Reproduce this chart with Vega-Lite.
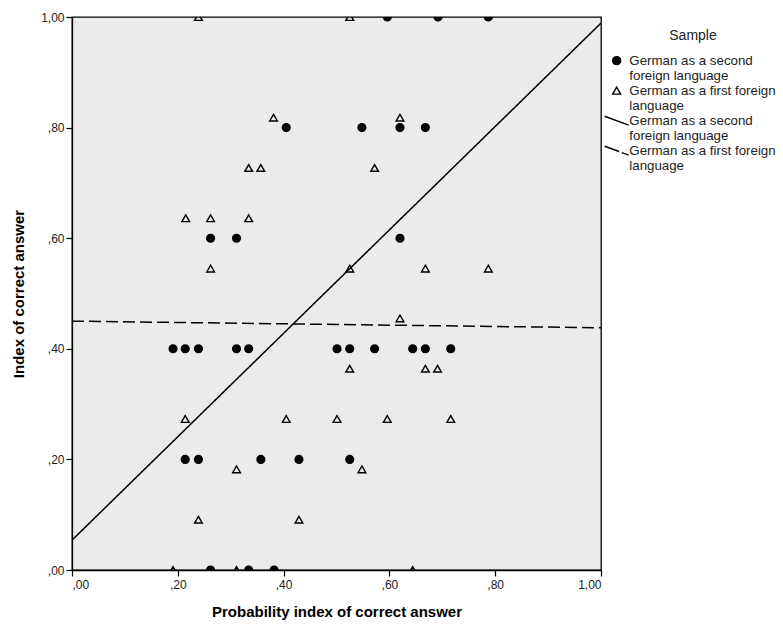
{
  "$schema": "https://vega.github.io/schema/vega-lite/v6.json",
  "autosize": "none",
  "width": 529,
  "height": 553,
  "padding": {"left": 72, "top": 17, "right": 182, "bottom": 57},
  "background": "white",
  "config": {
    "font": "Liberation Sans",
    "view": {"fill": "#EBEBEB", "stroke": "black", "strokeWidth": 1.3},
    "axis": {
      "domainColor": "black", "domainWidth": 1.3, "tickColor": "black", "tickSize": 6, "tickWidth": 1.2,
      "grid": false, "labelFont": "Liberation Sans", "labelFontSize": 12, "labelColor": "#222",
      "titleFont": "Liberation Sans", "titleFontSize": 15, "titleFontWeight": "bold", "titleColor": "black"
    }
  },
  "datasets": {
    "pts": [
      {"x": 0.596, "y": 1.0, "g": "c"}, {"x": 0.692, "y": 1.0, "g": "c"}, {"x": 0.787, "y": 1.0, "g": "c"},
      {"x": 0.405, "y": 0.8, "g": "c"}, {"x": 0.548, "y": 0.8, "g": "c"}, {"x": 0.62, "y": 0.8, "g": "c"}, {"x": 0.668, "y": 0.8, "g": "c"},
      {"x": 0.262, "y": 0.6, "g": "c"}, {"x": 0.311, "y": 0.6, "g": "c"}, {"x": 0.62, "y": 0.6, "g": "c"},
      {"x": 0.191, "y": 0.4, "g": "c"}, {"x": 0.214, "y": 0.4, "g": "c"}, {"x": 0.239, "y": 0.4, "g": "c"}, {"x": 0.311, "y": 0.4, "g": "c"},
      {"x": 0.334, "y": 0.4, "g": "c"}, {"x": 0.501, "y": 0.4, "g": "c"}, {"x": 0.525, "y": 0.4, "g": "c"}, {"x": 0.572, "y": 0.4, "g": "c"},
      {"x": 0.644, "y": 0.4, "g": "c"}, {"x": 0.668, "y": 0.4, "g": "c"}, {"x": 0.716, "y": 0.4, "g": "c"},
      {"x": 0.214, "y": 0.2, "g": "c"}, {"x": 0.239, "y": 0.2, "g": "c"}, {"x": 0.357, "y": 0.2, "g": "c"}, {"x": 0.429, "y": 0.2, "g": "c"}, {"x": 0.525, "y": 0.2, "g": "c"},
      {"x": 0.262, "y": 0.0, "g": "c"}, {"x": 0.334, "y": 0.0, "g": "c"}, {"x": 0.382, "y": 0.0, "g": "c"},
      {"x": 0.239, "y": 1.0, "g": "t"}, {"x": 0.525, "y": 1.0, "g": "t"},
      {"x": 0.381, "y": 0.818, "g": "t"}, {"x": 0.62, "y": 0.818, "g": "t"},
      {"x": 0.334, "y": 0.727, "g": "t"}, {"x": 0.357, "y": 0.727, "g": "t"}, {"x": 0.572, "y": 0.727, "g": "t"},
      {"x": 0.215, "y": 0.636, "g": "t"}, {"x": 0.262, "y": 0.636, "g": "t"}, {"x": 0.334, "y": 0.636, "g": "t"},
      {"x": 0.262, "y": 0.545, "g": "t"}, {"x": 0.525, "y": 0.545, "g": "t"}, {"x": 0.668, "y": 0.545, "g": "t"}, {"x": 0.787, "y": 0.545, "g": "t"},
      {"x": 0.62, "y": 0.455, "g": "t"},
      {"x": 0.525, "y": 0.364, "g": "t"}, {"x": 0.668, "y": 0.364, "g": "t"}, {"x": 0.691, "y": 0.364, "g": "t"},
      {"x": 0.214, "y": 0.273, "g": "t"}, {"x": 0.405, "y": 0.273, "g": "t"}, {"x": 0.501, "y": 0.273, "g": "t"}, {"x": 0.596, "y": 0.273, "g": "t"}, {"x": 0.716, "y": 0.273, "g": "t"},
      {"x": 0.311, "y": 0.182, "g": "t"}, {"x": 0.548, "y": 0.182, "g": "t"},
      {"x": 0.239, "y": 0.091, "g": "t"}, {"x": 0.429, "y": 0.091, "g": "t"},
      {"x": 0.191, "y": 0.0, "g": "t"}, {"x": 0.311, "y": 0.0, "g": "t"}, {"x": 0.644, "y": 0.0, "g": "t"}
    ],
    "fits": [
      {"x": 0, "y": 0.054, "g": "ls"}, {"x": 1, "y": 0.989, "g": "ls"},
      {"x": 0, "y": 0.45, "g": "ld"}, {"x": 1, "y": 0.438, "g": "ld"}
    ]
  },
  "layer": [
    {
      "data": {"name": "pts"},
      "mark": {"type": "point", "filled": true, "strokeWidth": 1.4, "clip": true, "opacity": 1, "size": 60},
      "encoding": {
        "x": {
          "field": "x", "type": "quantitative", "title": "Probability index of correct answer",
          "scale": {"domain": [0, 1], "nice": false, "zero": false},
          "axis": {"values": [0, 0.2, 0.4, 0.6, 0.8, 1], "labelExpr": "datum.value == 1 ? '1,00' : ',' + format(datum.value * 100, '02d')", "titlePadding": 14, "labelPadding": 3}
        },
        "y": {
          "field": "y", "type": "quantitative", "title": "Index of correct answer",
          "scale": {"domain": [0, 1], "nice": false, "zero": false},
          "axis": {"values": [0, 0.2, 0.4, 0.6, 0.8, 1], "labelExpr": "datum.value == 1 ? '1,00' : ',' + format(datum.value * 100, '02d')", "titlePadding": 14, "labelPadding": 2}
        },
        "shape": {
          "field": "g", "type": "nominal", "title": "Sample",
          "scale": {"domain": ["c", "t", "ls", "ld"], "range": ["circle", "triangle-up", "M-3,-1.1L3,1.1", "M-3,-1.1L0.6,0.22M1.3,0.48L3,1.1"]},
          "legend": {
            "orient": "none", "legendX": 538, "legendY": 12,
            "titleFont": "Liberation Sans", "titleFontSize": 14, "titleFontWeight": "normal", "titleColor": "#222",
            "titleAnchor": "middle", "titlePadding": 11,
            "labelFont": "Liberation Sans", "labelFontSize": 13.3, "labelColor": "#222", "labelLimit": 200,
            "labelExpr": "datum.value == 'c' || datum.value == 'ls' ? ['German as a second', 'foreign language'] : ['German as a first foreign', 'language']",
            "symbolStrokeWidth": 1.4, "symbolSize": 64, "rowPadding": 0, "labelOffset": 6
          }
        },
        "fill": {
          "field": "g", "type": "nominal", "title": "Sample",
          "scale": {"domain": ["c", "t", "ls", "ld"], "range": ["black", "transparent", "transparent", "transparent"]}
        },
        "stroke": {
          "field": "g", "type": "nominal", "title": "Sample",
          "scale": {"domain": ["c", "t", "ls", "ld"], "range": ["black", "black", "black", "black"]}
        }
      }
    },
    {
      "data": {"name": "fits"},
      "mark": {"type": "line", "color": "black", "strokeWidth": 1.5, "clip": true},
      "encoding": {
        "x": {"field": "x", "type": "quantitative"},
        "y": {"field": "y", "type": "quantitative"},
        "detail": {"field": "g", "type": "nominal"},
        "strokeDash": {
          "field": "g", "type": "nominal", "legend": null,
          "scale": {"domain": ["ls", "ld"], "range": [[1, 0], [12, 5]]}
        }
      }
    }
  ]
}
